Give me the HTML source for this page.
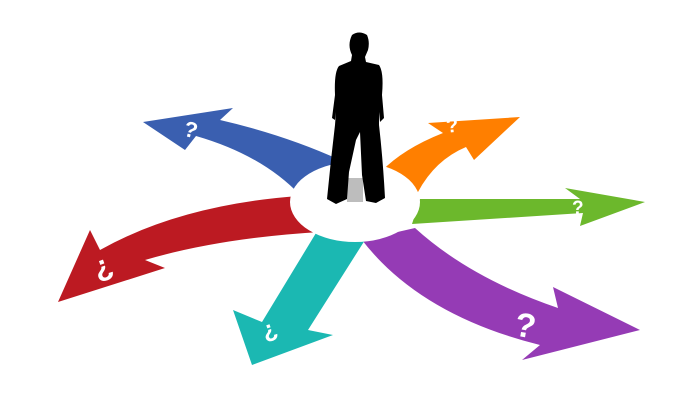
<!DOCTYPE html>
<html><head><style>html,body{margin:0;padding:0;background:#fff;width:700px;height:400px;overflow:hidden}</style></head>
<body>
<svg width="700" height="400" viewBox="0 0 700 400" xmlns="http://www.w3.org/2000/svg">
<!-- blue -->
<path d="M143,122 L233,108 L220,120 Q285,135 340,160 L300,195 Q262,155 196,136 L185,150 Z" fill="#3a5fb0"/>
<!-- orange -->
<path d="M520,117 L428,123 L443,133 Q400,150 378,175 L418,192 Q435,160 466,147 L474,160 Z" fill="#ff7f00"/>
<!-- green -->
<path d="M645,202 L565,188 L580,199 L420,199 L412,224 L583,213 L580,226 Z" fill="#6cb82c"/>
<!-- purple -->
<path d="M640,330 L553,287 L558,308 Q470,278 415,228 L362,240 Q420,315 540,345 L522,360 Z" fill="#953bb5"/>
<!-- teal -->
<path d="M316,233 L262,322 L233,310 L252,365 L333,335 L308,330 L365,240 Z" fill="#1bb8b2"/>
<!-- red -->
<path d="M58,302 L165,268 L145,260 Q220,238 320,232 L298,196 Q180,205 100,250 L90,230 Z" fill="#bc1a22"/>
<!-- ellipse -->
<ellipse cx="355" cy="202" rx="65" ry="40" fill="#fff"/>
<rect x="347" y="178" width="16" height="24" fill="#bdbdbd"/>
<!-- person -->
<path d="M352,35 Q359,30 367,35 Q370,42 368,50 L365,57 L366,62 L379,65 Q384,72 382,95 L384,118 L380,122 L379,112 L379,125 Q383,160 385,198 L376,203 L366,201 L362,175 L360,132 L356,140 L349,172 L347,199 L336,204 L327,199 L331,160 L335,125 L336,112 L335,120 L332,118 L335,95 Q334,72 339,66 L351,61 L352,55 Q347,45 352,35 Z" fill="#000"/>
<!-- question marks -->
<g fill="#fff" font-family="Liberation Sans, sans-serif" font-weight="bold">
<text x="184" y="137" font-size="22" transform="rotate(15 190 130)">?</text>
<text x="446" y="132" font-size="20" transform="rotate(-5 455 125)">?</text>
<text x="572" y="214" font-size="19">?</text>
<text x="515" y="337" font-size="34" transform="rotate(10 525 325)">?</text>
<text x="262" y="337" font-size="24" transform="rotate(-20 270 330)">¿</text>
<text x="92" y="275" font-size="30" transform="rotate(-20 105 262)">¿</text>
</g>
</svg>
</body></html>
